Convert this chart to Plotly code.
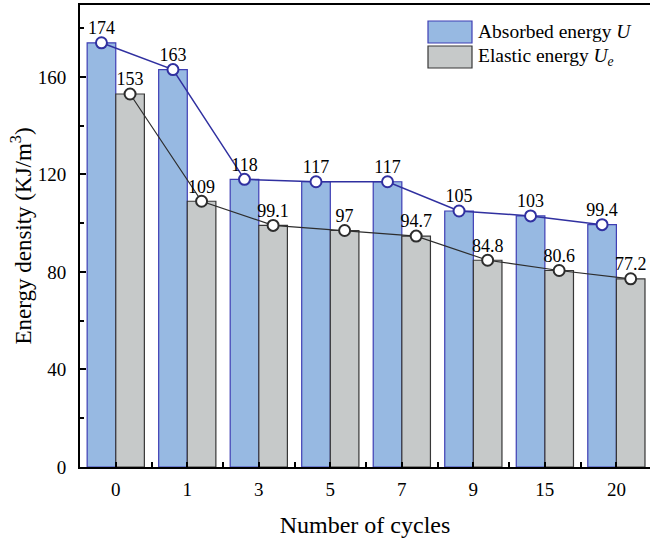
import plotly.graph_objects as go

# Data
cycles = ["0", "1", "3", "5", "7", "9", "15", "20"]
absorbed = [174, 163, 118, 117, 117, 105, 103, 99.4]
elastic = [153, 109, 99.1, 97, 94.7, 84.8, 80.6, 77.2]

# Styling
FONT = "Liberation Serif"
BLUE_FILL = "rgb(151,185,226)"
BLUE_EDGE = "rgb(62,62,180)"
BLUE_LINE = "rgb(48,48,160)"
GRAY_FILL = "rgb(198,201,201)"
GRAY_EDGE = "rgb(55,55,55)"
GRAY_LINE = "rgb(45,45,45)"

W, H = 650, 538
ML, MR, MT, MB = 80, 0, 5, 71
BARGAP = 0.2
BAR_W = (1 - BARGAP) / 2

pos = list(range(len(cycles)))
pos_a = [p - BAR_W / 2 for p in pos]
pos_e = [p + BAR_W / 2 for p in pos]
mid = [p + 0.5 for p in pos[:-1]]

fig = go.Figure()

fig.add_bar(x=pos, y=absorbed, name="Absorbed energy U",
            marker=dict(color=BLUE_FILL, line=dict(color=BLUE_EDGE, width=1.2)),
            showlegend=False, hoverinfo="skip")
fig.add_bar(x=pos, y=elastic, name="Elastic energy Ue",
            marker=dict(color=GRAY_FILL, line=dict(color=GRAY_EDGE, width=1.2)),
            showlegend=False, hoverinfo="skip")

for xs, ys, col, lw in [(pos_a, absorbed, BLUE_LINE, 1.5), (pos_e, elastic, GRAY_LINE, 1.2)]:
    fig.add_scatter(x=xs, y=ys, mode="lines+markers",
                    line=dict(color=col, width=lw),
                    marker=dict(symbol="circle", size=11, color="white",
                                line=dict(color=col, width=2)),
                    showlegend=False, cliponaxis=False)
    # value labels sitting just above each marker (invisible marker sets the gap)
    fig.add_scatter(x=xs, y=ys, mode="markers+text",
                    marker=dict(size=5, opacity=0),
                    text=[f"{v:g}" for v in ys], textposition="top center",
                    textfont=dict(family=FONT, size=18, color="black"),
                    showlegend=False, cliponaxis=False, hoverinfo="skip")

# Legend drawn as boxes + text so the swatches are wide rectangles
pw, ph = W - ML - MR, H - MT - MB
def px_x(x):
    return (x - ML) / pw
def px_y(y):
    return 1 - (y - MT) / ph

legend_items = [
    ("Absorbed energy <i>U</i>", BLUE_FILL, BLUE_EDGE, 21, 43),
    ("Elastic energy <i>U</i><sub><i>e</i></sub>", GRAY_FILL, GRAY_EDGE, 46, 68),
]
for label, fill, edge, y0, y1 in legend_items:
    fig.add_shape(type="rect", xref="paper", yref="paper",
                  x0=px_x(428), x1=px_x(472), y0=px_y(y1), y1=px_y(y0),
                  fillcolor=fill, line=dict(color=edge, width=1.2))
    fig.add_annotation(xref="paper", yref="paper", x=px_x(476), y=px_y((y0 + y1) / 2),
                       text=label, showarrow=False, xanchor="left", yanchor="middle",
                       font=dict(family=FONT, size=19.5, color="black"))

fig.update_layout(
    width=W, height=H,
    margin=dict(l=ML, r=MR, t=MT, b=MB),
    paper_bgcolor="white", plot_bgcolor="white",
    barmode="group", bargap=BARGAP, bargroupgap=0,
    font=dict(family=FONT, size=19, color="black"),
    xaxis=dict(
        range=[-0.5, 7.47], tickvals=pos, ticktext=cycles,
        showline=True, linecolor="black", linewidth=2, mirror=True,
        ticks="inside", ticklen=5, tickwidth=1.5, tickcolor="black",
        minor=dict(tickvals=mid, ticks="inside", ticklen=5, tickwidth=1.5, tickcolor="black"),
        showgrid=False, zeroline=False, ticklabelstandoff=4,
        tickfont=dict(family=FONT, size=19),
        title=dict(text="Number of cycles", font=dict(family=FONT, size=24), standoff=18),
    ),
    yaxis=dict(
        range=[0, 189.5], tickvals=[0, 40, 80, 120, 160],
        showline=True, linecolor="black", linewidth=2,
        ticks="inside", ticklen=6, tickwidth=1.5, tickcolor="black",
        minor=dict(tickvals=[20, 60, 100, 140, 180], ticks="inside", ticklen=4,
                   tickwidth=1.5, tickcolor="black"),
        showgrid=False, zeroline=False, ticklabelstandoff=8,
        tickfont=dict(family=FONT, size=19),
        title=dict(text="Energy density (KJ/m<sup>3</sup>)", font=dict(family=FONT, size=23),
                   standoff=0),
    ),
)

fig.write_html("out.html")
